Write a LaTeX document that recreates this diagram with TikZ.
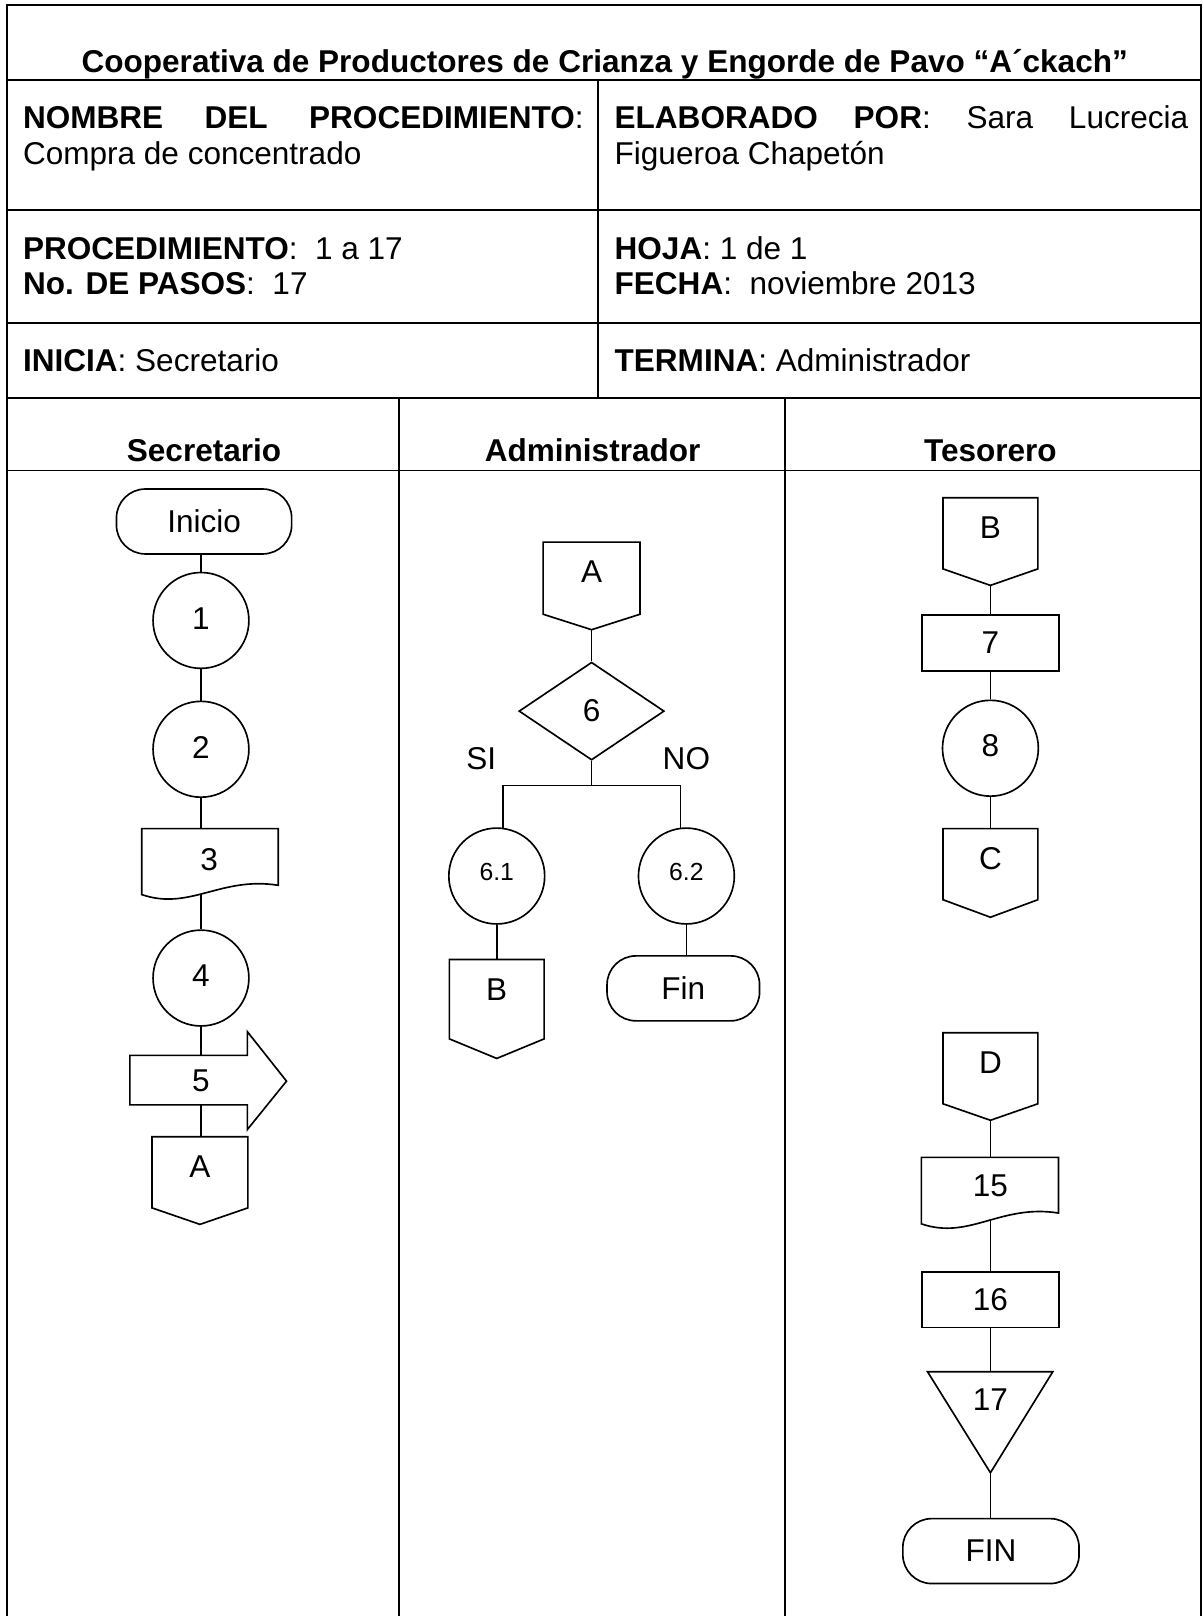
\documentclass[tikz,border=0pt]{standalone}
\usepackage{fontspec}
\setmainfont{Liberation Sans}
\usetikzlibrary{shapes.geometric}

\newcommand\fsz{\fontsize{15.3}{18}\selectfont}
\newcommand\fsmall{\fontsize{12}{14}\selectfont}

\tikzset{
  frame/.style={line width=0.9pt},
  shp/.style={draw, line width=0.8pt},
  cn/.style={line width=0.8pt},
  lbl/.style={inner sep=0pt, font=\fsz},
  txt/.style={inner sep=0pt, anchor=base west, font=\fsz},
  head/.style={inner sep=0pt, anchor=base, font=\fsz\bfseries},
  circ/.style={shp, circle, minimum size=46.5pt, inner sep=0pt, font=\fsz},
  term/.style={shp, rectangle, rounded corners=14pt, minimum height=31.5pt, inner sep=0pt, font=\fsz},
  proc/.style={shp, rectangle, minimum width=66.5pt, minimum height=27pt, inner sep=0pt, font=\fsz},
  deci/.style={shp, diamond, minimum width=70.5pt, minimum height=47.5pt, inner sep=0pt, font=\fsz},
}

% off-page connector: name, centre x, half width, top, shoulder, tip, text
\newcommand\offpage[7]{%
  \draw[shp] ({#2-#3},#4) -- ({#2+#3},#4) -- ({#2+#3},#5) -- (#2,#6) -- ({#2-#3},#5) -- cycle;
  \node[lbl] (#1) at (#2,{#4+29}) {#7};
  \coordinate (#1-n) at (#2,#4);
  \coordinate (#1-s) at (#2,#6);
}

\begin{document}
\begin{tikzpicture}[x=0.5pt,y=-0.5pt]
\useasboundingbox (0,0) rectangle (1167,1568);

% ---- table frame ----
\draw[frame] (7,1568) -- (7,5) -- (1165,5) -- (1165,1568);
\draw[frame] (7,78) -- (1165,78);
\draw[frame] (7,204) -- (1165,204);
\draw[frame] (7,313.5) -- (1165,313.5);
\draw[frame] (7,386) -- (1165,386);
\draw[frame] (7,456.5) -- (1165,456.5);
\draw[frame] (580.5,78) -- (580.5,386);
\draw[frame] (387,386) -- (387,1568);
\draw[frame] (761.5,386) -- (761.5,1568);

% ---- header texts ----
\node[head] (title) at (586.8,70) {Cooperativa de Productores de Crianza y Engorde de Pavo “A´ckach”};
\node[txt] (nom1) at (22,124.5) {\hbox to 272pt{\bfseries NOMBRE\hfill DEL\hfill PROCEDIMIENTO\mdseries:}};
\node[txt] (nom2) at (22,160) {Compra de concentrado};
\node[txt] (ela1) at (596,124.5) {\hbox to 278.25pt{\bfseries ELABORADO\hfill POR\mdseries:\hfill Sara\hfill Lucrecia}};
\node[txt] (ela2) at (596,160) {Figueroa Chapetón};
\node[txt] (pro1) at (22,251.6) {\textbf{PROCEDIMIENTO}:\ \ 1 a 17};
\node[txt] (pro2) at (22,286) {\textbf{No. DE PASOS}:\ \ 17};
\node[txt] (hoj1) at (596,251.6) {\textbf{HOJA}: 1 de 1};
\node[txt] (hoj2) at (596,286) {\textbf{FECHA}:\ \ noviembre 2013};
\node[txt] (ini1) at (22,360) {\textbf{INICIA}: Secretario};
\node[txt] (ter1) at (596,360) {\textbf{TERMINA}: Administrador};

% ---- lane titles ----
\node[head] (h1) at (198,448) {Secretario};
\node[head] (h2) at (575,448) {Administrador};
\node[head] (h3) at (961,448) {Tesorero};

% ---- Secretario ----
\node[term, minimum width=85pt] (ini) at (198,506) {\raisebox{-2pt}{Inicio}};
\node[circ] (c1) at (195,602) {\raisebox{2pt}{1}};
\node[circ] (c2) at (195,727) {\raisebox{2pt}{2}};
\draw[shp] (137.5,868) -- (137.5,804) -- (270,804) -- (270,859)
  .. controls (214.4,850) and (183.9,884) .. (137.5,868) -- cycle;
\node[lbl] (d3) at (203,834) {3};
\coordinate (d3-n) at (195,804);
\coordinate (d3-s) at (195,867);
\node[circ] (c4) at (195,949) {\raisebox{2.5pt}{4}};
\draw[shp] (126,1024) -- (240,1024) -- (240,1001) -- (278,1049) -- (240,1096)
  -- (240,1072) -- (126,1072) -- cycle;
\node[lbl] (p5) at (195,1049) {5};
\coordinate (p5-n) at (195,1024);
\coordinate (p5-s) at (195,1072);
\offpage{A1}{194}{46.5}{1103}{1172}{1188}{A}

\draw[cn] (c1.north |- ini.south) -- (c1.north);
\draw[cn] (c1.south) -- (c2.north);
\draw[cn] (c2.south) -- (d3-n);
\draw[cn] (d3-s) -- (c4.north);
\draw[cn] (c4.south) -- (p5-n);
\draw[cn] (p5-s) -- (p5-s |- A1-n);

% ---- Administrador ----
\offpage{A2}{574}{47}{526}{596}{611}{A}
\node[deci] (d6) at (574,690) {6};
\node[lbl] (lsi) at (467,736) {SI};
\node[lbl] (lno) at (666,736) {NO};
\coordinate (br) at (574,762);
\node[circ, font=\fsmall] (c61) at (482,850) {\raisebox{4.5pt}{6.1}};
\node[circ, font=\fsmall] (c62) at (666,850) {\raisebox{4.5pt}{6.2}};
\offpage{B1}{482}{46}{931}{1008}{1027}{B}
\node[term, minimum width=74pt] (fin1) at (663,959) {Fin};

\draw[cn] (A2-s) -- (d6.north);
\draw[cn] (d6.south) -- (br);
\draw[cn] (br) -| (c61.83);
\draw[cn] (br) -| (c62.97);
\draw[cn] (c61.south) -- (B1-n);
\draw[cn] (c62.south) -- (c62.south |- fin1.north);

% ---- Tesorero ----
\offpage{oB}{961}{46}{483}{552}{568}{B}
\node[proc] (p7) at (961,624) {7};
\node[circ] (c8) at (961,726) {\raisebox{2.5pt}{8}};
\offpage{oC}{961}{46}{804}{873}{890}{C}
\offpage{oD}{961}{46}{1002}{1071}{1087}{D}
\draw[shp] (894,1187.5) -- (894,1123) -- (1027,1123) -- (1027,1177)
  .. controls (971,1168) and (940.5,1203.5) .. (894,1187.5) -- cycle;
\node[lbl] (d15) at (961,1150.5) {15};
\coordinate (d15-n) at (961,1123);
\coordinate (d15-s) at (961,1184);
\node[proc] (p16) at (961,1261) {16};
\draw[shp] (900,1331) -- (1021.5,1331) -- (961,1429) -- cycle;
\node[lbl] (t17) at (961,1358) {17};
\coordinate (t17-n) at (961,1331);
\coordinate (t17-s) at (961,1429);
\node[term, minimum width=85.5pt] (fin2) at (961.5,1505) {FIN};

\draw[cn] (oB-s) -- (p7.north);
\draw[cn] (p7.south) -- (c8.north);
\draw[cn] (c8.south) -- (oC-n);
\draw[cn] (oD-s) -- (d15-n);
\draw[cn] (d15-s) -- (p16.north);
\draw[cn] (p16.south) -- (t17-n);
\draw[cn] (t17-s) -- (t17-s |- fin2.north);
\end{tikzpicture}
\end{document}
